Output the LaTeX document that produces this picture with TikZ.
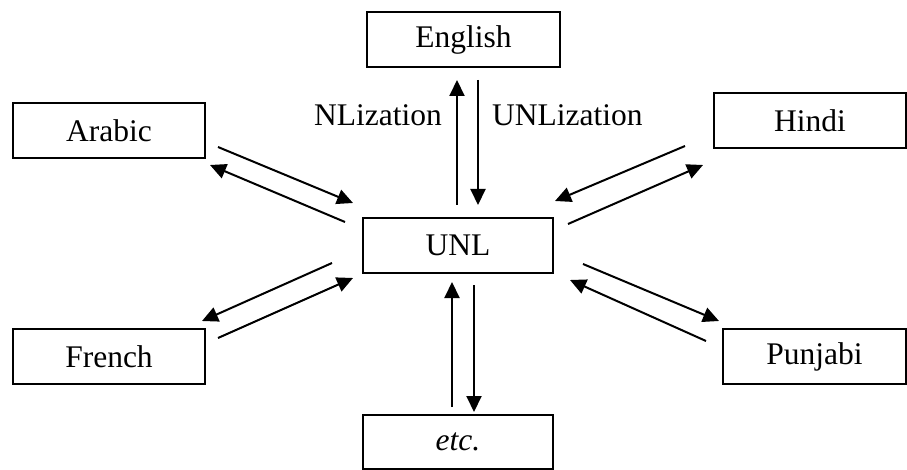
\documentclass[tikz,border=0pt]{standalone}
\usepackage{fontspec}
\setmainfont{Liberation Serif}
\usetikzlibrary{arrows.meta}
\begin{document}
\begin{tikzpicture}[x=1pt,y=-1pt,
  lang/.style={draw, line width=1.8pt, inner sep=0pt, minimum height=55pt,
    font=\fontsize{31.5}{36}\selectfont},
  flow/.style={line width=2pt, -{Triangle[length=16pt,width=15pt]}},
  lbl/.style={font=\fontsize{31.5}{36}\selectfont, inner sep=0pt}]
\useasboundingbox (0,0) rectangle (907,470);

% language boxes
\node[lang, minimum width=193pt] (en)  at (463.5,39.5) {English};
\node[lang, minimum width=192pt] (ar)  at (109,130.5)  {Arabic};
\node[lang, minimum width=192pt] (hi)  at (810,120.5)  {Hindi};
\node[lang, minimum width=190pt] (unl) at (458,245.5)  {UNL};
\node[lang, minimum width=192pt] (fr)  at (109,356.5)  {French};
\node[lang, minimum width=183pt] (pa)  at (814.5,356.5) {Punjabi};
\node[lang, minimum width=190pt, minimum height=54pt] (etc) at (458,442) {\itshape etc.};

% arrow end points
\coordinate (enA) at (457,205); \coordinate (enB) at (457,80);
\coordinate (enC) at (478,80);  \coordinate (enD) at (478,205);
\coordinate (arA) at (218,147); \coordinate (arB) at (353,203);
\coordinate (arC) at (345,222); \coordinate (arD) at (210,165);
\coordinate (hiA) at (685,146); \coordinate (hiB) at (555,201);
\coordinate (hiC) at (568,224); \coordinate (hiD) at (703,165);
\coordinate (frA) at (332,263); \coordinate (frB) at (202,321);
\coordinate (frC) at (218,338); \coordinate (frD) at (353,278);
\coordinate (paA) at (583,264); \coordinate (paB) at (719,321);
\coordinate (paC) at (706,341); \coordinate (paD) at (570,280);
\coordinate (etA) at (474,285); \coordinate (etB) at (474,412);
\coordinate (etC) at (452,407); \coordinate (etD) at (452,282);

% arrows
\draw[flow] (enA) -- (enB);
\draw[flow] (enC) -- (enD);
\draw[flow] (arA) -- (arB);
\draw[flow] (arC) -- (arD);
\draw[flow] (hiA) -- (hiB);
\draw[flow] (hiC) -- (hiD);
\draw[flow] (frA) -- (frB);
\draw[flow] (frC) -- (frD);
\draw[flow] (paA) -- (paB);
\draw[flow] (paC) -- (paD);
\draw[flow] (etA) -- (etB);
\draw[flow] (etC) -- (etD);

% labels on the English arrows
\node[lbl, anchor=east] (nl)  at (442,115) {NLization};
\node[lbl, anchor=west] (unlz) at (492,115) {UNLization};
\end{tikzpicture}
\end{document}
